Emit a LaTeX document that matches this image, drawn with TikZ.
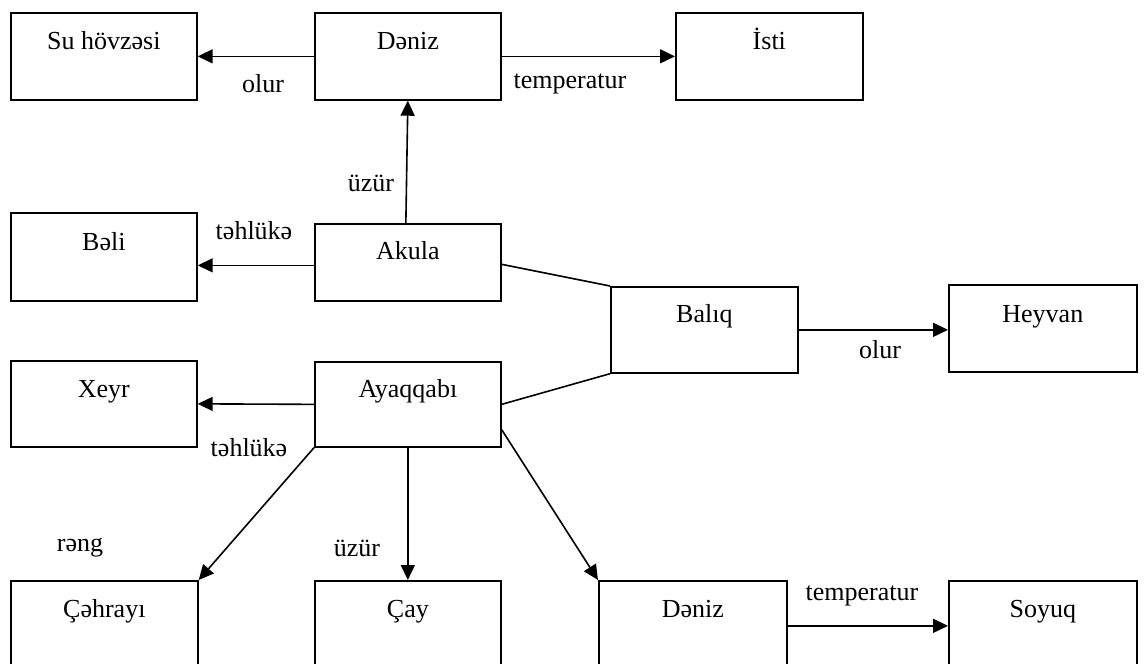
\documentclass[tikz,border=0pt]{standalone}
\usepackage{fontspec}
\setmainfont{Liberation Serif}
\usetikzlibrary{arrows.meta,calc}
\begin{document}
\begin{tikzpicture}[x=1pt,y=-1pt,
  font=\fontsize{26}{30}\selectfont,
  box/.style n args={3}{draw, line width=1.7pt, anchor=north west,
    minimum width=#1, inner xsep=0pt, inner ysep=0pt,
    text height=#2, text depth=#3},
  conn/.style={line width=1.6pt},
  arr/.style={conn, -{Triangle[length=15pt,width=14pt]}},
  lbl/.style={inner sep=0pt}]
\clip (0,0) rectangle (1144,664);
\fill[white] (0,0) rectangle (1144,664);

% top row
\node[box={186}{37}{50}] (su)    at (10,12)  {Su hövzəsi};
\node[box={186}{37}{50}] (deniz) at (314,12) {Dəniz};
\node[box={187}{37}{50}] (isti)  at (675,12) {İsti};

% middle rows
\node[box={186}{38}{50}] (beli)  at (10,212)  {Bəli};
\node[box={186}{36}{41}] (akula) at (314,223) {Akula};
\node[box={187}{36}{50}] (baliq) at (610,286) {Balıq};
\node[box={188}{38}{49}] (heyvan) at (948,284) {Heyvan};
\node[box={186}{37}{49}] (xeyr)  at (10,360)  {Xeyr};
\node[box={186}{36}{49}] (ayaq)  at (314,361) {Ayaqqabı};

% bottom row
\node[box={187}{37}{53}] (cehrayi) at (10,580)  {Çəhrayı};
\node[box={186}{37}{53}] (cay)     at (314,580) {Çay};
\node[box={188}{37}{53}] (deniz2)  at (598,580) {Dəniz};
\node[box={188}{37}{53}] (soyuq)   at (948,580) {Soyuq};

% connectors
\draw[arr] (deniz.west) -- (su.east);
\draw[arr] (deniz.east) -- (isti.west);
\draw[arr] ($(akula.north)+(-2,0)$) -- (deniz.south);
\draw[arr] ($(akula.west)+(0,3)$) -- ($(akula.west -| beli.east)+(0,3)$);
\draw[conn] ($(akula.east)+(0,2)$) -- (baliq.north west);
\draw[conn] (ayaq.east) -- (baliq.south west);
\draw[arr] (baliq.east) -- (baliq.east -| heyvan.west);
\draw[arr] (ayaq.west) -- (xeyr.east);
\draw[arr] (ayaq.south west) -- (cehrayi.north east);
\draw[arr] (ayaq.south) -- (cay.north);
\draw[arr] ($(ayaq.south east)+(0,-18)$) -- (deniz2.north west);
\draw[arr] (deniz2.east) -- (soyuq.west);

% connector labels
\node[lbl] (l1) at (263,84)  {olur};
\node[lbl] (l2) at (570,84)  {temperatur};
\node[lbl] (l3) at (371,183) {üzür};
\node[lbl] (l4) at (254,231) {təhlükə};
\node[lbl] (l5) at (880,350) {olur};
\node[lbl] (l6) at (249,448) {təhlükə};
\node[lbl] (l7) at (80,548)  {rəng};
\node[lbl] (l8) at (357,548) {üzür};
\node[lbl] (l9) at (862,596) {temperatur};
\end{tikzpicture}
\end{document}
